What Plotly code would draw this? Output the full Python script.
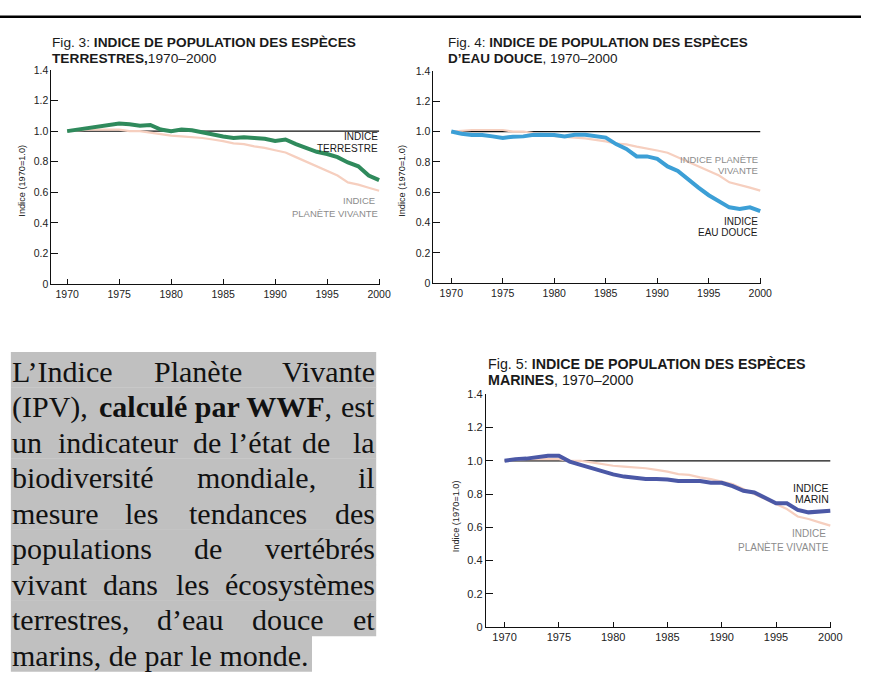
import plotly.graph_objects as go

# ---------------- data ----------------
YEARS = list(range(1970, 2001))

LPI = [1.00, 1.005, 1.01, 1.01, 1.01, 1.01, 1.00, 1.00, 0.99, 0.98,
       0.97, 0.965, 0.96, 0.955, 0.945, 0.935, 0.92, 0.915, 0.90, 0.89,
       0.875, 0.86, 0.83, 0.80, 0.77, 0.74, 0.71, 0.665, 0.65, 0.63, 0.61]

TERRESTRE = [1.00, 1.01, 1.02, 1.03, 1.04, 1.05, 1.045, 1.035, 1.04, 1.01,
             1.00, 1.01, 1.005, 0.99, 0.975, 0.965, 0.955, 0.96, 0.955, 0.95,
             0.935, 0.945, 0.915, 0.89, 0.865, 0.85, 0.83, 0.795, 0.77, 0.71, 0.68]

EAU_DOUCE = [1.00, 0.985, 0.977, 0.977, 0.968, 0.957, 0.966, 0.968, 0.979, 0.979,
             0.977, 0.968, 0.979, 0.979, 0.972, 0.96, 0.917, 0.885, 0.836, 0.836,
             0.82, 0.77, 0.74, 0.683, 0.63, 0.58, 0.542, 0.50, 0.49, 0.50, 0.475]

MARIN = [1.00, 1.01, 1.013, 1.02, 1.03, 1.03, 0.995, 0.975, 0.955, 0.935,
         0.918, 0.905, 0.897, 0.89, 0.89, 0.888, 0.878, 0.878, 0.878, 0.868,
         0.868, 0.848, 0.82, 0.81, 0.776, 0.745, 0.745, 0.705, 0.69, 0.695, 0.70]

REF_YEARS = [1970, 2000]
REF_VALUE = [1.0, 1.0]

X_TICKS = [1970, 1975, 1980, 1985, 1990, 1995, 2000]
X_TICK_TEXT = ["1970", "1975", "1980", "1985", "1990", "1995", "2000"]
Y_TICKS = [0, 0.2, 0.4, 0.6, 0.8, 1.0, 1.2, 1.4]
Y_TICK_TEXT = ["0", "0.2", "0.4", "0.6", "0.8", "1.0", "1.2", "1.4"]

Y_TITLE = "Indice (1970=1.0)"

TITLES = [
    ("Fig. 3: <b>INDICE DE POPULATION DES ESPÈCES</b>", "<b>TERRESTRES,</b>1970–2000"),
    ("Fig. 4: <b>INDICE DE POPULATION DES ESPÈCES</b>", "<b>D’EAU DOUCE</b>, 1970–2000"),
    ("Fig. 5: <b>INDICE DE POPULATION DES ESPÈCES</b>", "<b>MARINES</b>, 1970–2000"),
]
SERIES_LABELS = [
    (("INDICE", "TERRESTRE"), ("INDICE ", "PLANÈTE VIVANTE")),
    (("INDICE", "EAU DOUCE"), ("INDICE PLANÈTE", "VIVANTE")),
    (("INDICE", "MARIN"), ("INDICE ", "PLANÈTE VIVANTE")),
]
SERIES = [TERRESTRE, EAU_DOUCE, MARIN]

# paragraph text, line by line (word by word for justification)
PARAGRAPH = [
    ["L’Indice", "Planète", "Vivante"],
    ["(IPV),", "<b>calculé par WWF</b>,", "est"],
    ["un", "indicateur", "de", "l’état", "de", "la"],
    ["biodiversité", "mondiale,", "il"],
    ["mesure", "les", "tendances", "des"],
    ["populations", "de", "vertébrés"],
    ["vivant", "dans", "les", "écosystèmes"],
    ["terrestres,", "d’eau", "douce", "et"],
    ["marins, de par le monde."],
]

# ---------------- layout helpers ----------------
W, H = 872, 700


def px(x):
    return x / W


def py(y):
    return 1 - y / H


# pixel geometry of each panel
PANELS = [
    dict(l=52, r=385, t=65, b=283, x0=1968.48, x1=2000.1, tx=52, ty1=36.8, ty2=53.2,
         fs=13.7, tick=10.5, lab=10, ytx=22, yty=178,
         lab_r=384, lab1=(133, 145), lab2=(198, 211)),
    dict(l=439, r=771, t=66, b=282, x0=1968.27, x1=2000.1, tx=453, ty1=36.8, ty2=53.2,
         fs=13.5, tick=10.5, lab=10, ytx=407, yty=178,
         lab_r=769, lab1=(219, 230), lab2=(156, 167)),
    dict(l=492, r=842, t=395, b=632, x0=1968.27, x1=2000.1, tx=493, ty1=364.0, ty2=380.4,
         fs=14.3, tick=11, lab=10.5, ytx=462, yty=519,
         lab_r=841, lab1=(490, 502), lab2=(537, 550)),
]
COLORS = ["#2f8a5c", "#3c9fd6", "#4b58a6"]
LPI_COLOR = "#f6cfbf"

fig = go.Figure()
layout = dict(
    width=W, height=H, margin=dict(l=0, r=0, t=0, b=0),
    paper_bgcolor="white", plot_bgcolor="rgba(0,0,0,0)",
    showlegend=False, annotations=[], shapes=[], hovermode=False,
)

for i, p in enumerate(PANELS):
    n = "" if i == 0 else str(i + 1)
    xa, ya = "x" + n, "y" + n
    fig.add_trace(go.Scatter(x=REF_YEARS, y=REF_VALUE, mode="lines", xaxis=xa, yaxis=ya,
                             line=dict(color="#111111", width=1.2), hoverinfo="skip"))
    fig.add_trace(go.Scatter(x=YEARS, y=LPI, mode="lines", xaxis=xa, yaxis=ya,
                             line=dict(color=LPI_COLOR, width=2.2, shape="linear")))
    fig.add_trace(go.Scatter(x=YEARS, y=SERIES[i], mode="lines", xaxis=xa, yaxis=ya,
                             line=dict(color=COLORS[i], width=4)))
    axis_common = dict(showgrid=False, zeroline=False, showline=True, linecolor="#111111",
                       linewidth=1, ticks="inside", tickcolor="#111111", tickwidth=1,
                       fixedrange=True)
    layout["xaxis" + n] = dict(axis_common, domain=[px(p["l"]), px(p["r"])],
                               range=[p["x0"], p["x1"]], anchor=ya, ticklen=5,
                               tickvals=X_TICKS, ticktext=X_TICK_TEXT,
                               tickfont=dict(family="Arial", size=p["tick"], color="#222222"))
    layout["yaxis" + n] = dict(axis_common, domain=[py(p["b"]), py(p["t"])],
                               range=[0, 1.4], anchor=xa, ticklen=7,
                               tickvals=Y_TICKS, ticktext=Y_TICK_TEXT,
                               tickfont=dict(family="Arial", size=p["tick"], color="#222222"))
    # titles
    for txt, yy in ((TITLES[i][0], p["ty1"]), (TITLES[i][1], p["ty2"])):
        layout["annotations"].append(dict(
            text=txt, xref="paper", yref="paper", x=px(p["tx"]), y=py(yy),
            xanchor="left", yanchor="middle", showarrow=False, borderpad=0,
            font=dict(family="Arial", size=p["fs"], color="#1a1a1a")))
    # y axis title
    layout["annotations"].append(dict(
        text=Y_TITLE, xref="paper", yref="paper", x=px(p["ytx"]), y=py(p["yty"]),
        xanchor="center", yanchor="middle", textangle=-90, showarrow=False,
        font=dict(family="Arial", size=9.2, color="#222222")))
    # series labels
    (b1, b2), (g1, g2) = SERIES_LABELS[i]
    for txt, yy, col in ((b1, p["lab1"][0], "#1a1a1a"), (b2, p["lab1"][1], "#1a1a1a"),
                         (g1, p["lab2"][0], "#8c8c8c"), (g2, p["lab2"][1], "#8c8c8c")):
        layout["annotations"].append(dict(
            text=txt, xref="paper", yref="paper", x=px(p["lab_r"]), y=py(yy),
            xanchor="right", yanchor="middle", showarrow=False, borderpad=0,
            font=dict(family="Arial", size=p["lab"] if col == "#1a1a1a" else p["lab"] - 0.5,
                      color=col)))

# top rule
layout["shapes"].append(dict(type="line", xref="paper", yref="paper",
                             x0=0, x1=1, y0=py(11), y1=py(11),
                             line=dict(color="#000000", width=2.5)))

# paragraph: grey highlight rows + words
ROW_TOP, ROW_H = 352, 36.1
BOX_L, BOX_R, LAST_R = 11, 381, 316
WORD_CENTERS = [
    [None, 200.5, None],
    [None, 218, None],
    [None, 120, 209.7, 264, 320, None],
    [None, 260, None],
    [None, 143.8, 250.8, None],
    [None, 210.8, None],
    [None, 132, 194.7, None],
    [None, 193.3, 291.2, None],
    [None],
]
for r, words in enumerate(PARAGRAPH):
    top = ROW_TOP + r * ROW_H
    right = LAST_R if r == len(PARAGRAPH) - 1 else BOX_R
    layout["shapes"].append(dict(type="rect", xref="paper", yref="paper", layer="below",
                                 x0=px(BOX_L), x1=px(right), y0=py(top + ROW_H + 0.4), y1=py(top),
                                 fillcolor="#c0c0c0", line=dict(width=0)))
    yc = top + 19.7
    for k, wtxt in enumerate(words):
        if k == 0:
            xx, anc = BOX_L, "left"
        elif k == len(words) - 1:
            xx, anc = BOX_R, "right"
        else:
            xx, anc = WORD_CENTERS[r][k], "center"
        layout["annotations"].append(dict(
            text=wtxt, xref="paper", yref="paper", x=px(xx), y=py(yc),
            xanchor=anc, yanchor="middle", showarrow=False, borderpad=0,
            font=dict(family="Liberation Serif", size=30, color="#111111")))

fig.update_layout(**layout)
fig.write_html("out.html", config={"displayModeBar": False, "staticPlot": True},
               post_script="document.body.style.margin='0';document.body.style.overflow='hidden';")
